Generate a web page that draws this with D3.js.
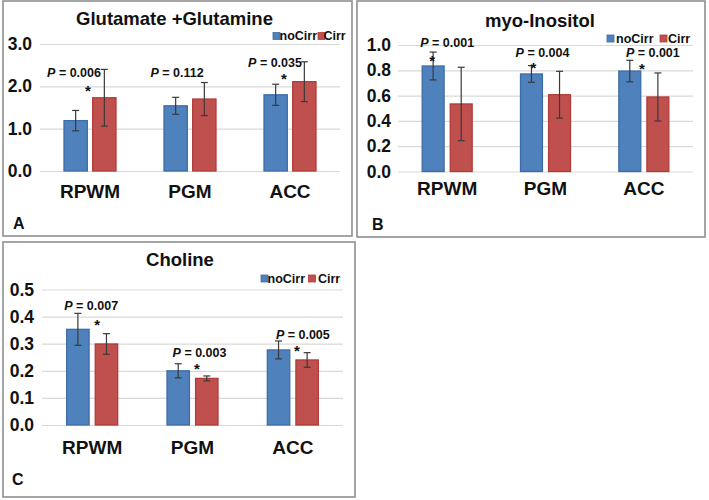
<!DOCTYPE html>
<html><head><meta charset="utf-8">
<script src="https://cdn.jsdelivr.net/npm/d3@7"></script>
<style>
body{margin:0;background:#fff;}
svg{display:block;font-family:"Liberation Sans",Arial,Helvetica,sans-serif;font-weight:bold;}
</style></head><body>
<svg id="chart" width="709" height="500"></svg>
<script>
// ---------- data ----------
const categories = ["RPWM", "PGM", "ACC"];
const seriesNames = ["noCirr", "Cirr"];

const glxTitle = "Glutamate +Glutamine";
const glxNoCirr = [1.19, 1.54, 1.80];
const glxNoCirrErr = [0.24, 0.20, 0.25];
const glxCirr = [1.73, 1.70, 2.11];
const glxCirrErr = [0.67, 0.39, 0.47];
const glxTicks = [0, 1, 2, 3];
const glxP = ["0.006", "0.112", "0.035"];
const glxSig = [true, false, true];

const miTitle = "myo-Inositol";
const miNoCirr = [0.834, 0.771, 0.794];
const miNoCirrErr = [0.11, 0.066, 0.085];
const miCirr = [0.534, 0.607, 0.589];
const miCirrErr = [0.29, 0.185, 0.19];
const miTicks = [0, 0.2, 0.4, 0.6, 0.8, 1.0];
const miP = ["0.001", "0.004", "0.001"];
const miSig = [true, true, true];

const choTitle = "Choline";
const choNoCirr = [0.353, 0.200, 0.277];
const choNoCirrErr = [0.059, 0.026, 0.033];
const choCirr = [0.299, 0.172, 0.240];
const choCirrErr = [0.038, 0.009, 0.027];
const choTicks = [0, 0.1, 0.2, 0.3, 0.4, 0.5];
const choP = ["0.007", "0.003", "0.005"];
const choSig = [true, true, true];

// ---------- styles ----------
const colors = {noCirr: "#4f81bd", Cirr: "#c0504d"};
const strokes = {noCirr: "#3d6da8", Cirr: "#b23c38"};

const svg = d3.select("#chart");

function drawPanel(p) {
  const g = svg.append("g");
  // frame
  g.append("rect")
    .attr("x", p.box[0]).attr("y", p.box[1])
    .attr("width", p.box[2] - p.box[0]).attr("height", p.box[3] - p.box[1])
    .attr("fill", "#fff").attr("stroke", "#8f8f8f").attr("stroke-width", 1.6);

  const y = d3.scaleLinear().domain(p.domain).range([p.y0, p.y1]);
  const x0 = d3.scaleBand().domain(categories).range(p.xr).paddingInner(0).paddingOuter(0);
  const grpW = p.grpW;
  const x1 = d3.scaleBand().domain(seriesNames).range([0, grpW]).paddingInner(p.gap / (grpW + p.gap) * 2 / (1 + p.gap / (grpW + p.gap)));
  const off = d => x0(d) + x0.bandwidth() / 2 - grpW / 2;

  // y axis with gridlines
  const ya = d3.axisLeft(y).tickValues(p.ticks).tickFormat(d3.format(".1f"))
    .tickSize(-(p.xr[1] - p.xr[0])).tickPadding(p.xr[0] - p.tickRight);
  const yg = g.append("g").attr("transform", `translate(${p.xr[0]},0)`).call(ya);
  yg.select(".domain").remove();
  yg.selectAll(".tick line").attr("stroke", "#d9d9d9").attr("stroke-width", 1.2);
  yg.selectAll(".tick text").attr("fill", "#111").attr("font-size", p.tickFs)
    .attr("font-family", "'Liberation Sans',Arial,sans-serif").attr("font-weight", "bold");

  // x axis labels
  const xa = d3.axisBottom(x0).tickSize(0);
  const xg = g.append("g").attr("transform", `translate(0,${p.catBase})`).call(xa);
  xg.select(".domain").remove();
  xg.selectAll(".tick text").attr("y", 0).attr("dy", 0).attr("fill", "#111")
    .attr("font-size", 19).attr("font-family", "'Liberation Sans',Arial,sans-serif").attr("font-weight", "bold");

  // bars
  const rows = [];
  categories.forEach((c, i) => {
    rows.push({cat: c, s: "noCirr", v: p.noCirr[i], e: p.noCirrErr[i]});
    rows.push({cat: c, s: "Cirr", v: p.cirr[i], e: p.cirrErr[i]});
  });
  g.selectAll("rect.bar").data(rows).enter().append("rect").attr("class", "bar")
    .attr("x", d => off(d.cat) + x1(d.s))
    .attr("width", x1.bandwidth())
    .attr("y", d => y(d.v))
    .attr("height", d => y(0) - y(d.v))
    .attr("fill", d => colors[d.s]).attr("stroke", d => strokes[d.s]).attr("stroke-width", 1.3);

  // error bars
  const eb = g.selectAll("g.err").data(rows).enter().append("g").attr("class", "err")
    .attr("stroke", "#3a3a3a").attr("stroke-width", 1.2);
  const cx = d => off(d.cat) + x1(d.s) + x1.bandwidth() / 2;
  eb.append("line").attr("x1", cx).attr("x2", cx).attr("y1", d => y(d.v + d.e)).attr("y2", d => y(d.v - d.e));
  eb.append("line").attr("x1", d => cx(d) - 3.5).attr("x2", d => cx(d) + 3.5).attr("y1", d => y(d.v + d.e)).attr("y2", d => y(d.v + d.e));
  eb.append("line").attr("x1", d => cx(d) - 3.5).attr("x2", d => cx(d) + 3.5).attr("y1", d => y(d.v - d.e)).attr("y2", d => y(d.v - d.e));

  // p-value labels
  categories.forEach((c, i) => {
    const cc = x0(c) + x0.bandwidth() / 2;
    const t = g.append("text").attr("x", cc + p.pPos[i].dx).attr("y", y(p.pPos[i].v))
      .attr("text-anchor", "middle").attr("font-size", 12.5).attr("fill", "#111");
    t.append("tspan").attr("font-style", "italic").text("P");
    t.append("tspan").text(" = " + p.pvals[i]);
    if (p.sig[i]) {
      g.append("text").attr("x", cc + p.starPos[i].dx).attr("y", y(p.starPos[i].v) + 8.2)
        .attr("text-anchor", "middle").attr("font-size", 15).attr("fill", "#111").text("*");
    }
  });

  // title
  g.append("text").attr("x", p.titleX).attr("y", p.titleY).attr("text-anchor", "middle")
    .attr("font-size", 18.5).attr("fill", "#111").text(p.title);

  // legend
  seriesNames.forEach((s, i) => {
    g.append("rect").attr("x", p.leg[i][0]).attr("y", p.legBase - 7.5).attr("width", 7).attr("height", 7)
      .attr("fill", colors[s]).attr("stroke", strokes[s]).attr("stroke-width", 0.8);
    g.append("text").attr("x", p.leg[i][1]).attr("y", p.legBase).attr("font-size", 12.5).attr("fill", "#111").text(s);
  });

  // panel letter
  g.append("text").attr("x", p.letterX).attr("y", p.letterY).attr("font-size", 16).attr("fill", "#111").text(p.letter);
}

drawPanel({
  box: [3, 1, 352, 236], xr: [40, 340], y0: 171, y1: 44, domain: [0, 3], ticks: glxTicks, tickRight: 32, tickFs: 17.5,
  grpW: 52, gap: 6, catBase: 198,
  noCirr: glxNoCirr, noCirrErr: glxNoCirrErr, cirr: glxCirr, cirrErr: glxCirrErr,
  pvals: glxP, sig: glxSig,
  pPos: [{dx: -16, v: 2.22}, {dx: -13, v: 2.22}, {dx: -15, v: 2.46}],
  starPos: [{dx: -2, v: 1.96}, null, {dx: -6, v: 2.25}],
  title: glxTitle, titleX: 174.5, titleY: 25,
  leg: [[273, 279.5], [318, 323.5]], legBase: 40,
  letter: "A", letterX: 13, letterY: 229
});

drawPanel({
  box: [357, 1, 705, 237], xr: [398, 693], y0: 171.5, y1: 45, domain: [0, 1], ticks: miTicks, tickRight: 391, tickFs: 17.5,
  grpW: 50, gap: 7, catBase: 195,
  noCirr: miNoCirr, noCirrErr: miNoCirrErr, cirr: miCirr, cirrErr: miCirrErr,
  pvals: miP, sig: miSig,
  pPos: [{dx: 0, v: 0.984}, {dx: -3, v: 0.905}, {dx: 9, v: 0.905}],
  starPos: [{dx: -15, v: 0.897}, {dx: -12, v: 0.840}, {dx: -2, v: 0.834}],
  title: miTitle, titleX: 540, titleY: 27,
  leg: [[607, 616], [660, 668]], legBase: 42.5,
  letter: "B", letterX: 372, letterY: 230
});

drawPanel({
  box: [3, 242, 355, 497], xr: [42, 343], y0: 425, y1: 289.5, domain: [0, 0.5], ticks: choTicks, tickRight: 34, tickFs: 17.5,
  grpW: 51, gap: 7, catBase: 454,
  noCirr: choNoCirr, noCirrErr: choNoCirrErr, cirr: choCirr, cirrErr: choCirrErr,
  pvals: choP, sig: choSig,
  pPos: [{dx: -1, v: 0.424}, {dx: 7, v: 0.252}, {dx: 10, v: 0.317}],
  starPos: [{dx: 5, v: 0.381}, {dx: 4.5, v: 0.220}, {dx: 4, v: 0.286}],
  title: choTitle, titleX: 180, titleY: 265.5,
  leg: [[261, 267.5], [308.5, 318]], legBase: 282.5,
  letter: "C", letterX: 12, letterY: 485
});
</script>
</body></html>
